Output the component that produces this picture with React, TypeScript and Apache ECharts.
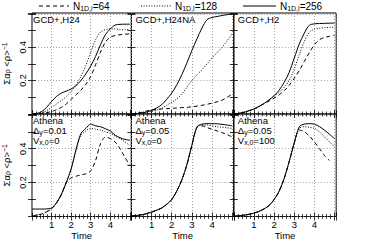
import React, { useEffect, useRef } from 'react';
import * as echarts from 'echarts';

const time = [0, 0.25, 0.5, 0.75, 1.0, 1.25, 1.5, 1.75, 2.0, 2.25, 2.5, 2.75, 3.0, 3.25, 3.5, 3.75, 4.0, 4.25, 4.5, 4.75, 5.0];

// GCD+, H24
const h24_64 = [0, 0, 0.003, 0.008, 0.015, 0.025, 0.04, 0.06, 0.088, 0.115, 0.143, 0.178, 0.225, 0.295, 0.37, 0.43, 0.46, 0.47, 0.475, 0.478, 0.48];
const h24_128 = [0, 0.002, 0.008, 0.02, 0.04, 0.06, 0.08, 0.105, 0.135, 0.175, 0.225, 0.29, 0.37, 0.445, 0.49, 0.505, 0.51, 0.51, 0.505, 0.505, 0.505];
const h24_256 = [0, 0.003, 0.015, 0.04, 0.075, 0.105, 0.125, 0.137, 0.15, 0.17, 0.2, 0.24, 0.287, 0.345, 0.415, 0.475, 0.51, 0.533, 0.537, 0.538, 0.538];
// GCD+, H24NA
const h24na_64 = [0, 0.004, 0.01, 0.018, 0.024, 0.027, 0.03, 0.032, 0.034, 0.036, 0.038, 0.04, 0.043, 0.047, 0.052, 0.058, 0.065, 0.073, 0.083, 0.1, 0.12];
const h24na_128 = [0, 0.002, 0.005, 0.01, 0.016, 0.023, 0.035, 0.052, 0.07, 0.09, 0.12, 0.16, 0.2, 0.235, 0.265, 0.3, 0.335, 0.368, 0.4, 0.438, 0.48];
const h24na_256 = [0, 0.002, 0.006, 0.012, 0.022, 0.036, 0.055, 0.088, 0.125, 0.175, 0.235, 0.305, 0.38, 0.45, 0.515, 0.565, 0.578, 0.584, 0.59, 0.595, 0.6];
// GCD+, H2
const h2_64 = [0, 0.004, 0.01, 0.02, 0.03, 0.045, 0.062, 0.078, 0.095, 0.115, 0.14, 0.172, 0.215, 0.26, 0.315, 0.368, 0.415, 0.445, 0.459, 0.465, 0.47];
const h2_128 = [0, 0.004, 0.01, 0.02, 0.03, 0.045, 0.063, 0.083, 0.105, 0.13, 0.16, 0.2, 0.27, 0.355, 0.435, 0.49, 0.508, 0.514, 0.517, 0.519, 0.52];
const h2_256 = [0, 0.004, 0.01, 0.02, 0.03, 0.045, 0.063, 0.085, 0.11, 0.143, 0.19, 0.25, 0.335, 0.42, 0.485, 0.532, 0.54, 0.542, 0.543, 0.544, 0.545];
// Athena, dy=0.01, vx0=0
const a1_64 = [0.003, 0.008, 0.015, 0.028, 0.045, 0.08, 0.13, 0.2, 0.228, 0.238, 0.245, 0.252, 0.27, 0.33, 0.43, 0.468, 0.46, 0.44, 0.4, 0.35, 0.3];
const a1_128 = [0.003, 0.008, 0.015, 0.028, 0.045, 0.08, 0.13, 0.2, 0.28, 0.39, 0.48, 0.505, 0.52, 0.515, 0.51, 0.5, 0.49, 0.475, 0.46, 0.44, 0.42];
const a1_256 = [0.044, 0.044, 0.044, 0.045, 0.05, 0.08, 0.13, 0.2, 0.28, 0.395, 0.49, 0.52, 0.545, 0.535, 0.53, 0.518, 0.505, 0.48, 0.465, 0.455, 0.45];
// Athena, dy=0.05, vx0=0
const a2_64 = [0.003, 0.006, 0.01, 0.017, 0.026, 0.037, 0.05, 0.072, 0.1, 0.15, 0.215, 0.305, 0.42, 0.525, 0.535, 0.525, 0.515, 0.505, 0.495, 0.483, 0.47];
const a2_128 = [0.003, 0.006, 0.01, 0.017, 0.026, 0.037, 0.05, 0.072, 0.1, 0.15, 0.215, 0.305, 0.42, 0.528, 0.54, 0.54, 0.535, 0.53, 0.527, 0.523, 0.52];
const a2_256 = [0.003, 0.006, 0.01, 0.017, 0.026, 0.037, 0.05, 0.072, 0.1, 0.15, 0.215, 0.305, 0.42, 0.528, 0.545, 0.548, 0.548, 0.547, 0.544, 0.54, 0.535];
// Athena, dy=0.05, vx0=100
const a3_64 = [0.002, 0.004, 0.008, 0.013, 0.02, 0.03, 0.045, 0.065, 0.1, 0.15, 0.225, 0.325, 0.435, 0.51, 0.5, 0.475, 0.44, 0.4, 0.36, 0.33, null];
const a3_128 = [0.002, 0.004, 0.008, 0.013, 0.02, 0.03, 0.045, 0.065, 0.1, 0.15, 0.225, 0.325, 0.435, 0.52, 0.53, 0.527, 0.52, 0.5, 0.47, 0.44, 0.41];
const a3_256 = [0.002, 0.004, 0.008, 0.013, 0.02, 0.03, 0.045, 0.065, 0.1, 0.15, 0.225, 0.325, 0.435, 0.53, 0.545, 0.548, 0.545, 0.53, 0.51, 0.485, 0.46];

const resolutions = ['64', '128', '256'];
const xTickLabels = ['1', '2', '3', '4'];
const yTickValues = [0.2, 0.4];
const yTickLabels = ['0.2', '0.4'];

const panelLabels = [
  ['GCD+,H24'],
  ['GCD+,H24NA'],
  ['GCD+,H2'],
  ['Athena', '\u0394{s|y}=0.01', 'V{s|x,0}=0'],
  ['Athena', '\u0394{s|y}=0.05', 'V{s|x,0}=0'],
  ['Athena', '\u0394{s|y}=0.05', 'V{s|x,0}=100'],
];
const panelData = [
  [h24_64, h24_128, h24_256],
  [h24na_64, h24na_128, h24na_256],
  [h2_64, h2_128, h2_256],
  [a1_64, a1_128, a1_256],
  [a2_64, a2_128, a2_256],
  [a3_64, a3_128, a3_256],
];

const FONT = 'Liberation Sans, Arial, sans-serif';
const lineTypes: any[] = [[4, 3], [1, 1.6], 'solid'];
const richSub = {
  s: { fontSize: 7, lineHeight: 7, verticalAlign: 'bottom', fontFamily: FONT, color: '#000' },
  p: { fontSize: 7, lineHeight: 7, verticalAlign: 'top', fontFamily: FONT, color: '#000' },
};

export default function App() {
  const ref = useRef<HTMLDivElement>(null);
  useEffect(() => {
    if (!ref.current) return;
    const chart = echarts.init(ref.current, undefined, { renderer: 'svg' });
    const L = 29, W = 102.4;
    const tops = [13, 114];
    const heights = [101, 102.5];
    const yMax = 0.605;
    const grids: any[] = [];
    const xAxes: any[] = [];
    const yAxes: any[] = [];
    const series: any[] = [];
    const graphics: any[] = [];
    const tickCommon = {
      axisLine: { show: false },
      axisTick: { inside: true, length: 4, lineStyle: { color: '#000', width: 0.8 } },
    };
    for (let i = 0; i < 6; i++) {
      const row = Math.floor(i / 3), col = i % 3;
      const left = L + col * W;
      grids.push({ left, top: tops[row], width: W, height: heights[row], show: true, borderColor: '#000', borderWidth: 1, containLabel: false });
      const xBase = {
        gridIndex: i, type: 'value', min: 0, max: 5.08, interval: 1,
        ...tickCommon,
        minorTick: { show: true, splitNumber: 5, length: 2.5, lineStyle: { color: '#000', width: 0.7 } },
      };
      xAxes.push({
        ...xBase, position: 'bottom',
        splitLine: { show: true, lineStyle: { color: '#888', type: [1, 2], width: 0.8 } },
        axisLabel: row === 1 ? {
          show: true, fontSize: 9.5, fontFamily: FONT, color: '#000', margin: 3,
          formatter: (v: number) => (xTickLabels.includes(String(v)) ? String(v) : ''),
        } : { show: false },
        name: row === 1 ? 'Time' : '', nameLocation: 'middle', nameGap: 14,
        nameTextStyle: { fontSize: 9.5, fontFamily: FONT, color: '#000' },
      });
      xAxes.push({ ...xBase, position: 'top', splitLine: { show: false }, axisLabel: { show: false } });
      const yBase = {
        gridIndex: i, type: 'value', min: 0, max: yMax, interval: 0.2,
        ...tickCommon,
        minorTick: { show: true, splitNumber: 2, length: 4, lineStyle: { color: '#000', width: 0.8 } },
      };
      yAxes.push({
        ...yBase, position: 'left',
        splitLine: { show: true, lineStyle: { color: '#888', type: [1, 2], width: 0.8 } },
        axisLabel: { show: false },
        name: col === 0 ? '\u03A3\u03B1{s|\u03C1} <\u03C1>{p|\u22121}' : '',
        nameLocation: 'middle', nameRotate: 90, nameGap: 21, nameMoveOverlap: false,
        nameTextStyle: { fontSize: 9.5, lineHeight: 10, fontFamily: FONT, color: '#000', rich: richSub },
      });
      yAxes.push({ ...yBase, position: 'right', splitLine: { show: false }, axisLabel: { show: false } });
      panelData[i].forEach((arr, k) => {
        series.push({
          type: 'line', name: resolutions[k], xAxisIndex: 2 * i, yAxisIndex: 2 * i,
          data: time.map((t, j) => [t, arr[j]]),
          symbol: 'none', smooth: 0.3, connectNulls: false, silent: true,
          lineStyle: { color: '#000', width: 1, type: lineTypes[k] },
          itemStyle: { color: '#000' },
          z: 3 + k,
        });
      });
      panelLabels[i].forEach((txt, k) => {
        graphics.push({
          type: 'text', left: left + 4, top: tops[row] + 1 + k * 10,
          style: { text: txt, fontSize: 9.5, lineHeight: 11, fontFamily: FONT, fill: '#000', rich: richSub },
          z: 10,
        });
      });
      if (col === 0) {
        yTickValues.forEach((v, k) => {
          const py = tops[row] + heights[row] * (1 - v / yMax);
          graphics.push({
            type: 'text', x: 22.5, y: py, rotation: Math.PI / 2,
            style: { text: yTickLabels[k], fontSize: 9, fontFamily: FONT, fill: '#000', align: 'center', verticalAlign: 'middle' },
            silent: true, z: 20,
          });
        });
      }
    }
    // legend drawn as graphic elements
    const legendLine = [[39, 69], [141, 171], [243, 276]];
    resolutions.forEach((r, k) => {
      graphics.push({
        type: 'line', shape: { x1: legendLine[k][0], y1: 6, x2: legendLine[k][1], y2: 6 },
        style: { stroke: '#000', lineWidth: 1, lineDash: k === 2 ? null : lineTypes[k] },
        silent: true,
      });
      graphics.push({
        type: 'text', x: legendLine[k][1] + 4, y: 6,
        style: { text: `N{s|1D,l}=${r}`, fontSize: 10, lineHeight: 11, fontFamily: FONT, fill: '#000', rich: richSub, verticalAlign: 'middle', align: 'left' },
        silent: true,
      });
    });
    chart.setOption({
      animation: false,
      textStyle: { fontFamily: FONT, color: '#000' },
      grid: grids, xAxis: xAxes, yAxis: yAxes, series,
      graphic: graphics,
    });
    return () => chart.dispose();
  }, []);
  return <div ref={ref} style={{ position: 'absolute', left: 0, top: 0, width: 374, height: 243, background: '#fff' }} />;
}
